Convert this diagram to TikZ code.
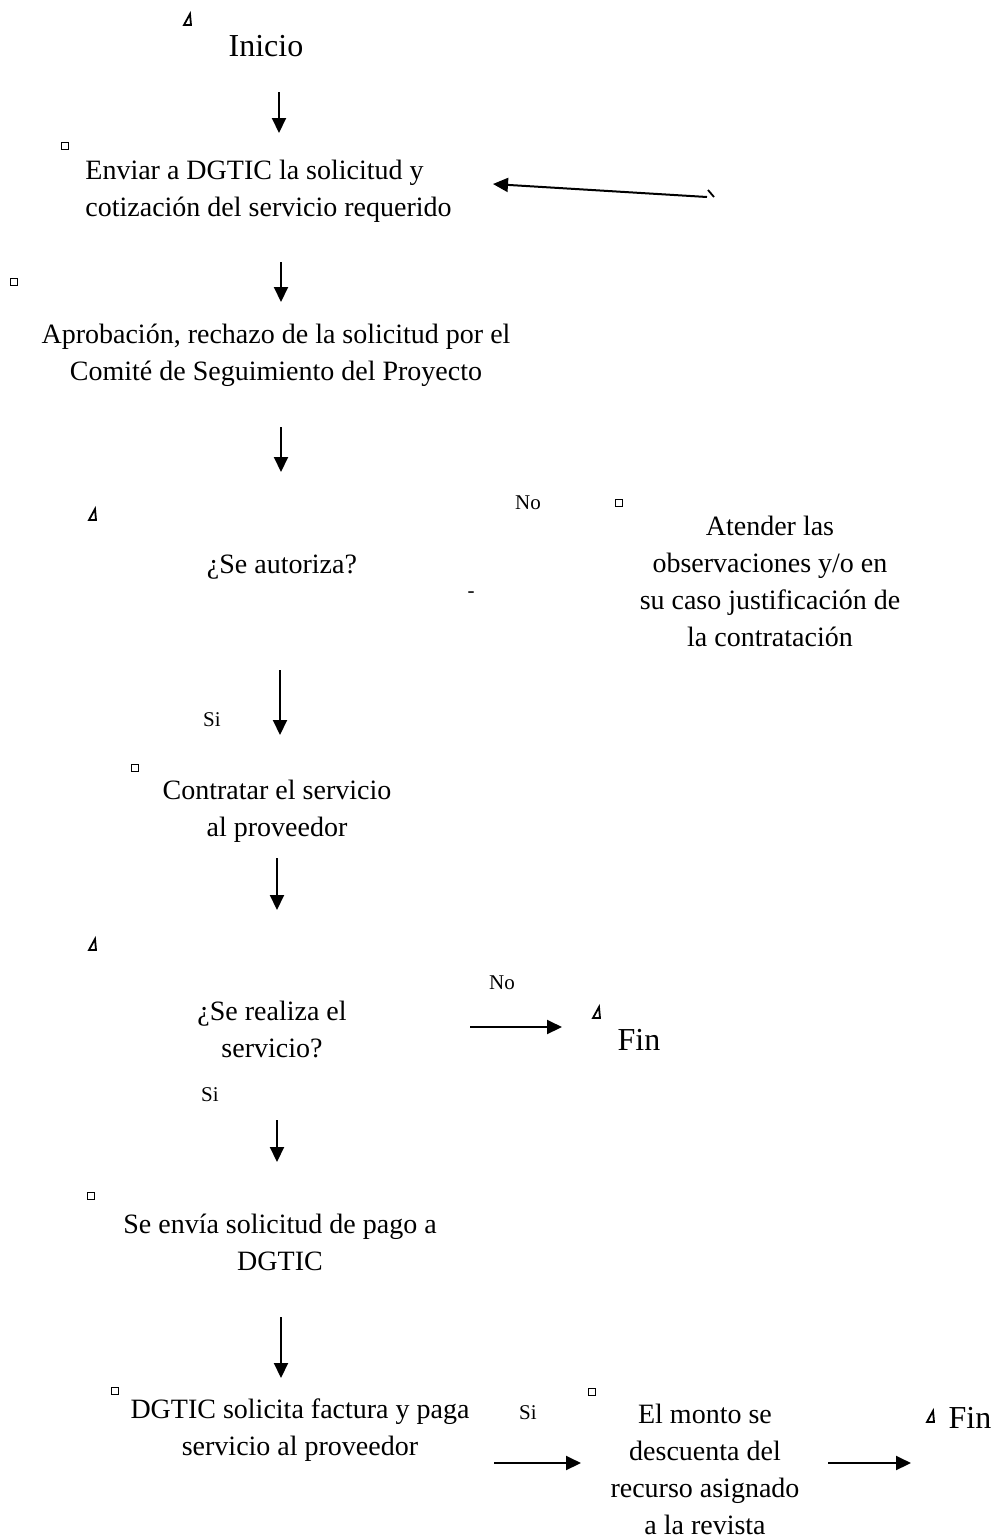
\documentclass[tikz,border=0pt]{standalone}
\usepackage{fontspec}
\setmainfont{Liberation Serif}
\usetikzlibrary{arrows.meta}

\tikzset{
  texto/.style={inner sep=0pt, align=center, font=\fontsize{14}{18.5}\selectfont},
  grande/.style={inner sep=0pt, font=\fontsize{16}{19}\selectfont},
  etiq/.style={inner sep=0pt, font=\fontsize{10.5}{12}\selectfont},
  flecha/.style={line width=1pt, -{Triangle[length=7.5pt,width=7pt]}},
  cuadrito/.style={draw, line width=0.8pt, minimum size=3.5pt, inner sep=0pt},
}
\newcommand{\triang}[1]{\draw[line width=0.9pt] (#1) ++(-3,5) -- ++(7,0) -- ++(-1,-11) -- cycle;}

\begin{document}
\begin{tikzpicture}[x=0.5pt,y=-0.5pt]
\useasboundingbox (0,0) rectangle (999,1538);

%Marcas
\triang{187,20}
\triang{92,515}
\triang{92,945}
\triang{596,1013}
\triang{930,1417}
\node[cuadrito] (c1) at (65,146) {};
\node[cuadrito] (c2) at (14,282) {};
\node[cuadrito] (c3) at (619,503) {};
\node[cuadrito] (c4) at (135,768) {};
\node[cuadrito] (c5) at (91,1196) {};
\node[cuadrito] (c6) at (115,1391) {};
\node[cuadrito] (c7) at (592,1392) {};
\draw[line width=0.9pt] (708,190) -- (714,197);

%Textos
\node[grande] (inicio) at (266,46) {Inicio};
\node[texto, align=left, anchor=west] (enviar) at (85,191) {Enviar a DGTIC la solicitud y\\cotización del servicio requerido};
\node[texto] (aprobacion) at (276,355) {Aprobación, rechazo de la solicitud por el\\Comité de Seguimiento del Proyecto};
\node[texto] (autoriza) at (282,567) {¿Se autoriza?};
\node[texto] (atender) at (770,581) {Atender las\\observaciones y/o en\\su caso justificación de\\la contratación};
\node[texto] (contratar) at (277,811) {Contratar el servicio\\al proveedor};
\node[texto] (realiza) at (272,1029) {¿Se realiza el\\servicio?};
\node[grande] (fin1) at (639,1040) {Fin};
\node[texto] (envia) at (280,1242) {Se envía solicitud de pago a\\DGTIC};
\node[texto] (paga) at (300,1430) {DGTIC solicita factura y paga\\servicio al proveedor};
\node[texto] (monto) at (705,1469) {El monto se\\descuenta del\\recurso asignado\\a la revista};
\node[grande] (fin2) at (970,1418) {Fin};

%Etiquetas
\node[etiq] (no1) at (528,503) {No};
\node[etiq] (guion) at (471,595) {-};
\node[etiq] (si1) at (212,720) {Si};
\node[etiq] (no2) at (502,983) {No};
\node[etiq] (si2) at (210,1095) {Si};
\node[etiq] (si3) at (528,1413) {Si};

%Flechas
\coordinate (f1a) at (279,92);   \coordinate (f1b) at (279,133);
\coordinate (f2a) at (707,197);  \coordinate (f2b) at (493,184);
\coordinate (f3a) at (281,262);  \coordinate (f3b) at (281,302);
\coordinate (f4a) at (281,427);  \coordinate (f4b) at (281,472);
\coordinate (f5a) at (280,670);  \coordinate (f5b) at (280,735);
\coordinate (f6a) at (277,858);  \coordinate (f6b) at (277,910);
\coordinate (f7a) at (470,1027); \coordinate (f7b) at (562,1027);
\coordinate (f8a) at (277,1120); \coordinate (f8b) at (277,1162);
\coordinate (f9a) at (281,1317); \coordinate (f9b) at (281,1378);
\coordinate (f10a) at (494,1463); \coordinate (f10b) at (581,1463);
\coordinate (f11a) at (828,1463); \coordinate (f11b) at (911,1463);
\foreach \n in {1,...,11}
  \draw[flecha] (f\n a) -- (f\n b);
\end{tikzpicture}
\end{document}
